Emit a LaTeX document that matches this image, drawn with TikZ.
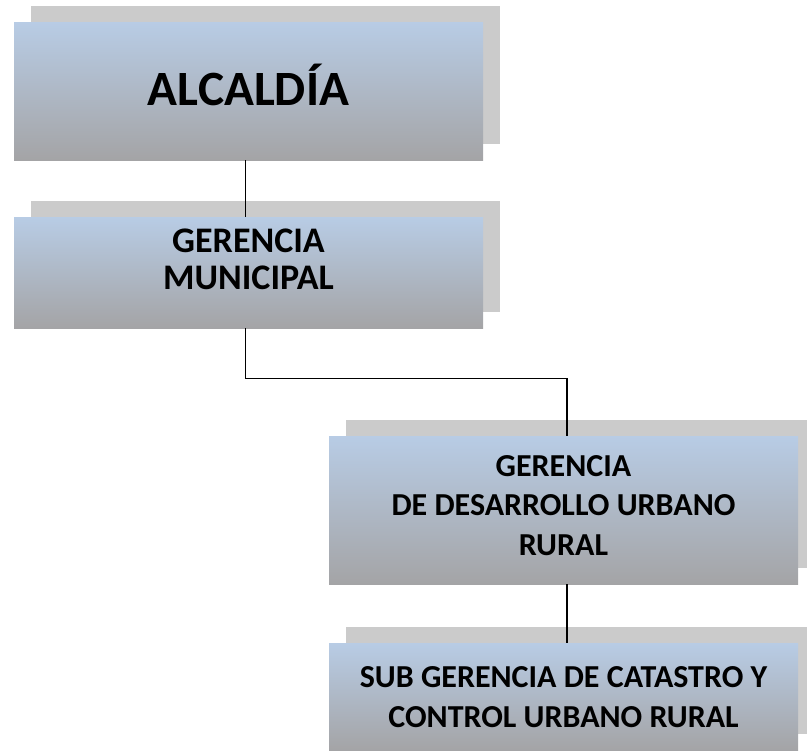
\documentclass[tikz,border=0pt]{standalone}
\usepackage{fontspec}
\setmainfont{Carlito}
\usetikzlibrary{shadows}
\definecolor{boxtop}{RGB}{184,204,229}
\definecolor{boxmid}{RGB}{176,187,202}
\definecolor{boxbot}{RGB}{164,164,166}
\definecolor{shadowgray}{RGB}{203,203,203}
\begin{document}
\begin{tikzpicture}[x=0.75pt,y=-0.75pt,
  caja/.style={rectangle, minimum width=351.75pt, align=center, inner sep=0pt,
    font=\bfseries, text depth=0pt, top color=boxtop, middle color=boxmid, bottom color=boxbot,
    general shadow={shadow xshift=12.75pt, shadow yshift=12pt, fill=shadowgray}},
  linea/.style={draw=black, line width=0.8pt}]
\useasboundingbox (0,0) rectangle (807,750);

\node(Alc)[caja, minimum height=103.5pt, text height=21pt,
  font=\bfseries\fontsize{37}{44}\selectfont] at (248.5,91) {ALCALD\'IA};
\node(GerMun)[caja, minimum height=83.25pt, text height=24.75pt,
  font=\bfseries\fontsize{27}{27.75}\selectfont] at (248.5,272.5) {GERENCIA\\MUNICIPAL};
\node(GerDes)[caja, minimum height=111pt, text height=67.5pt,
  font=\bfseries\fontsize{24}{29.6}\selectfont] at (563.5,510) {GERENCIA\\DE DESARROLLO URBANO\\RURAL};
\node(SubGer)[caja, minimum height=80.25pt, text height=45.75pt,
  font=\bfseries\fontsize{24}{30}\selectfont] at (563.5,696.5) {SUB GERENCIA DE CATASTRO Y\\CONTROL URBANO RURAL};

\draw[linea] ([xshift=-2.6pt]Alc.south) -- ([xshift=-2.6pt]GerMun.north);
\draw[linea] ([xshift=-2.6pt]GerMun.south) -- ++(0,50) -| ([xshift=2.6pt]GerDes.north);
\draw[linea] ([xshift=2.6pt]GerDes.south) -- ([xshift=2.6pt]SubGer.north);
\end{tikzpicture}
\end{document}
